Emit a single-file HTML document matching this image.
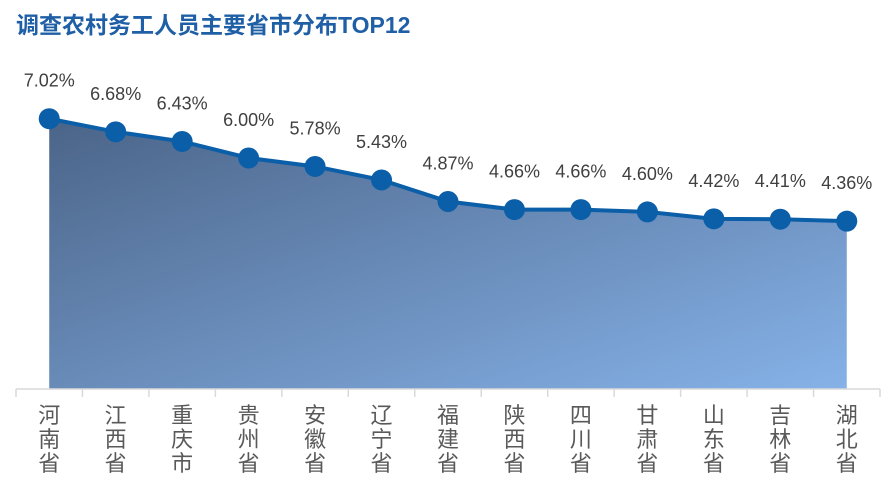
<!DOCTYPE html>
<html><head><meta charset="utf-8"><style>
body{margin:0;background:#fff;}
svg{display:block;font-family:"Liberation Sans","Noto Sans CJK SC",sans-serif;}
</style></head><body>
<svg id="chart" width="894" height="490">
<defs><linearGradient id="g" x1="0" y1="0" x2="1" y2="1">
<stop offset="0" stop-color="#4b6488"/><stop offset="1" stop-color="#86b2e8"/></linearGradient></defs>
<text x="16" y="33" font-size="23" font-weight="bold" fill="#1f5fa6">调查农村务工人员主要省市分布TOP12</text>
</svg>
<script>
const categories=["河南省","江西省","重庆市","贵州省","安徽省","辽宁省","福建省","陕西省","四川省","甘肃省","山东省","吉林省","湖北省"];
const values=[7.02,6.68,6.43,6.00,5.78,5.43,4.87,4.66,4.66,4.60,4.42,4.41,4.36];
const labels=["7.02%","6.68%","6.43%","6.00%","5.78%","5.43%","4.87%","4.66%","4.66%","4.60%","4.42%","4.41%","4.36%"];
const NS="http://www.w3.org/2000/svg";
const svg=document.getElementById('chart');
const x0=16,x1=880,base=389,step=(x1-x0)/categories.length;
const xs=i=>x0+step*(i+0.5);
const ys=v=>base-v*38.5;
function mk(t,a){const e=document.createElementNS(NS,t);for(const k in a)e.setAttribute(k,a[k]);svg.appendChild(e);return e;}
let d="M"+xs(0)+","+base;
values.forEach((v,i)=>d+=" L"+xs(i)+","+ys(v));
d+=" L"+xs(values.length-1)+","+base+" Z";
const area=mk('path',{d:d,fill:'url(#g)'});


const axis=mk('line',{x1:x0,y1:base,x2:x1,y2:base,stroke:'#d9d9d9','stroke-width':1.5});


for(let i=0;i<=categories.length;i++){
 const t=mk('line',{x1:x0+step*i,y1:base,x2:x0+step*i,y2:base+8,stroke:'#d9d9d9','stroke-width':1.5});
 
 
}
const pl=mk('polyline',{points:values.map((v,i)=>xs(i)+","+ys(v)).join(" "),fill:'none',stroke:'#0b5ea8','stroke-width':4});


values.forEach((v,i)=>{
 const c=mk('circle',{cx:xs(i),cy:ys(v),r:10.5,fill:'#0b5ea8'});
 
 
 const t=mk('text',{x:xs(i),y:ys(v)-32,'text-anchor':'middle','font-size':18,fill:'#404040'});
 t.textContent=labels[i];
 
 
 [...categories[i]].forEach((ch,j)=>{
  const l=mk('text',{x:xs(i),y:423+j*24,'text-anchor':'middle','font-size':22,fill:'#595959'});
  l.textContent=ch;
  
  
 });
});
</script>
</body></html>
